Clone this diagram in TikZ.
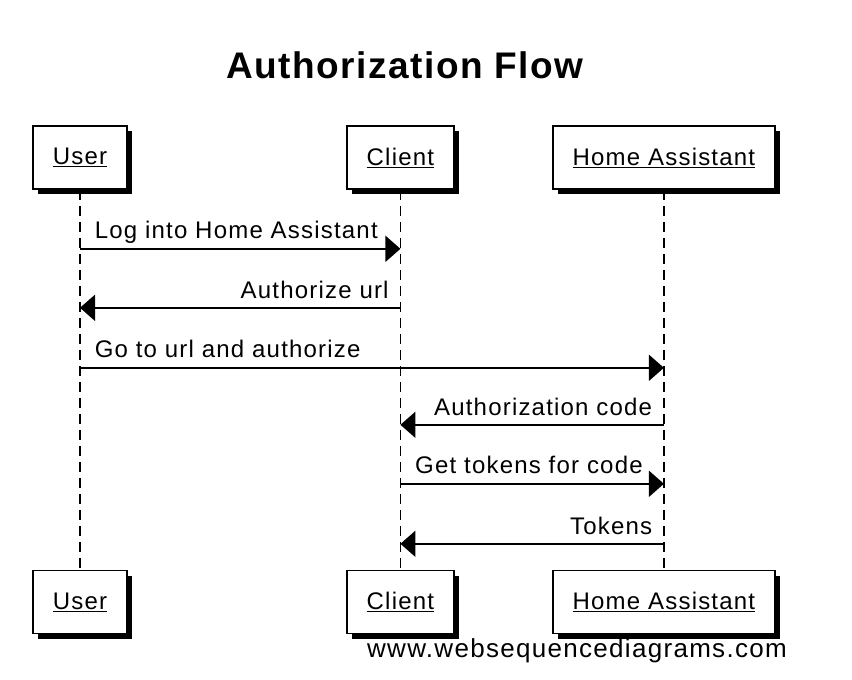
\documentclass[tikz,border=0pt]{standalone}
\usepackage{fontspec}
\setmainfont{Liberation Sans}
\newfontfamily\seqfont[LetterSpace=5]{Liberation Sans}
\newfontfamily\titlefont[LetterSpace=4]{Liberation Sans}
\usetikzlibrary{positioning}
\usetikzlibrary{shadows, arrows.meta}

\begin{document}
\begin{tikzpicture}[
            x = 1pt, y = 1pt,
            > = {Triangle[length=15pt, width=26pt]}, % arrow head style
            font = \seqfont\fontsize{24}{28}\selectfont,
            node distance = 220pt, % distance between boxes
        ]

        \tikzstyle{actor}=[
            draw,
            line width = 1.6pt,
            fill = white,
            inner xsep = 20pt,
            minimum height = 63pt,
            drop shadow = {shadow xshift=5pt, shadow yshift=-5pt, fill=black, opacity=1}
        ]
        \tikzstyle{lifeline}=[line width = 1.3pt, dash pattern = on 10pt off 6pt]
        \tikzstyle{msg}=[->, line width = 1.6pt]
        \tikzstyle{rlabel}=[at start, anchor=base west, xshift=14pt, yshift=10pt, inner sep=0pt]
        \tikzstyle{llabel}=[at start, anchor=base east, xshift=-11pt, yshift=9pt, inner sep=0pt]

        \useasboundingbox (0,0) rectangle (852,-680);

        \node[anchor=base, font=\titlefont\bfseries\fontsize{37}{42}\selectfont] (title) at (405,-78) {Authorization Flow};

        % lifeline heads
        \node[actor] (user) at (80,-157.5) {\underline{User}};
        \node[actor] (client) [right=218pt of user] {\underline{Client}};
        \node[actor] (ha) [right=97pt of client] {\underline{Home Assistant}};

        % lifeline feet
        \node[actor] (userB) [below=380pt of user] {\underline{User}};
        \node[actor] (clientB) [below=380pt of client] {\underline{Client}};
        \node[actor] (haB) [below=380pt of ha] {\underline{Home Assistant}};

        \draw[lifeline] (user) -- (userB);
        \draw[lifeline] (client) -- (clientB);
        \draw[lifeline] (ha) -- (haB);

        % message points on the lifelines
        \coordinate[below=59pt of user] (u1);
        \coordinate[below=59pt of client] (c1);
        \coordinate[below=118pt of user] (u2);
        \coordinate[below=118pt of client] (c2);
        \coordinate[below=178pt of user] (u3);
        \coordinate[below=178pt of ha] (h3);
        \coordinate[below=235pt of client] (c4);
        \coordinate[below=235pt of ha] (h4);
        \coordinate[below=294pt of client] (c5);
        \coordinate[below=294pt of ha] (h5);
        \coordinate[below=354pt of client] (c6);
        \coordinate[below=354pt of ha] (h6);

        \path[msg]
            (u1)    edge  node[rlabel] {Log into Home Assistant}   (c1)
            (c2)    edge  node[llabel] {Authorize url}             (u2)
            (u3)    edge  node[rlabel] {Go to url and authorize}   (h3)
            (h4)    edge  node[llabel] {Authorization code}        (c4)
            (c5)    edge  node[rlabel] {Get tokens for code}       (h5)
            (h6)    edge  node[llabel] {Tokens}                    (c6);

        \node[anchor=base west, inner sep=0pt, font=\seqfont\fontsize{26}{31}\selectfont] (credit) at (367,-657) {www.websequencediagrams.com};

\end{tikzpicture}
\end{document}
